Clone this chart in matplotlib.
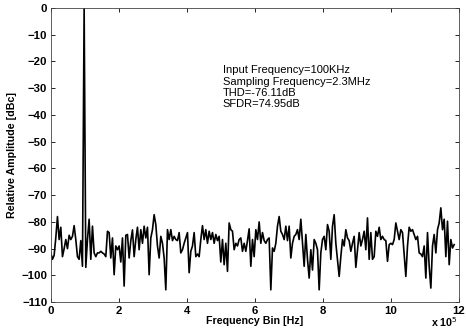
#!/usr/bin/env python
from matplotlib import pyplot as plt
import numpy as np

# FFT spectrum (x in units of 1e5 Hz)
bin_width = 0.049
amp = [
    -91.6, -94, -92.5, -86, -78, -86.6, -82, -93, -90, -86.6,
    -90, -85, -86.6, -85.4, -81.4, -86.6, -93, -94, -87, -96.6,
    0, -97, -86.6, -79, -94, -81.6, -91.6, -93, -91.6, -91.6,
    -91, -91.6, -92, -93, -83.5, -84, -93.5, -86, -99.75, -89,
    -90.4, -89, -95, -86, -104, -85, -84.7, -93.5, -87, -83,
    -93, -86.6, -82, -90.4, -82.9, -88, -81.6, -86, -82, -99.75,
    -86, -82.9, -77.3, -81, -89, -93.5, -85.4, -88, -93.5, -105.4,
    -82.9, -86.6, -82.9, -87, -85.4, -86.6, -87, -84, -91.6, -90.4,
    -88, -86, -84, -99, -91, -89, -84, -93, -92, -93,
    -86.6, -81.4, -86.6, -82.9, -88, -83.5, -86.6, -84, -88, -84.7,
    -87, -85.4, -95, -86.6, -96, -88, -98.5, -80.4, -82.9, -83.5,
    -90.4, -88, -89, -86.6, -86, -91, -88, -91, -87, -82.6,
    -96.6, -86.6, -93, -82.9, -86.6, -80,
    -88, -84, -87, -88, -86.6, -86, -105.4, -89.75, -91, -88,
    -81.6, -78, -83.5, -84.7, -86.6, -81.6, -87, -81.6, -93.5, -88,
    -85.4, -84.7, -82.9, -86.6, -79, -88, -96.6, -84.7, -94, -101,
    -90.4, -98, -86.6, -88, -90.4, -105.4, -91.6, -86.6, -85.4, -90.4,
    -81, -83.5, -94, -81.6, -77.3, -88, -94, -100.4, -93, -86.6,
    -89, -82.9, -86, -87, -91, -88, -85.4, -97, -90.4, -84,
    -89, -86.6, -83.5, -90.4, -78.5, -94, -84, -94, -93, -83.5,
    -85.4, -82, -86.6, -85.4, -86.6, -87, -94.75, -88.5, -88, -88.5,
    -86.6, -80.4, -83.5, -86.6, -82.9, -84, -92, -100.4, -89, -82,
    -83.5, -82.9, -84.7, -86.6, -85.4, -91.6, -92, -93, -89, -101,
    -84, -96.6, -104.75, -89, -84.7, -91.6, -82.9, -80.4, -74.75, -82.9,
    -79, -93, -79.75, -96, -86.6, -89.75, -88.5,
]
freq = np.arange(len(amp)) * bin_width

info_lines = [
    "Input Frequency=100KHz",
    "Sampling Frequency=2.3MHz",
    "THD=-76.11dB",
    "SFDR=74.95dB",
]
xticks = [0, 2, 4, 6, 8, 10, 12]
yticks = list(range(-110, 1, 10))

plt.rcParams['font.family'] = ['Liberation Sans', 'DejaVu Sans']

fig = plt.figure(figsize=(4.66, 3.32), dpi=100)
ax = fig.add_axes([0.109, 0.090, 0.876, 0.886])

ax.plot(freq, amp, color='black', linewidth=1.2)

ax.set_xlim(0, 12)
ax.set_ylim(-110, 0)
ax.set_xticks(xticks)
ax.set_yticks(yticks)
ax.tick_params(direction='in', top=True, right=True, length=3, width=0.6,
               labelsize=8.2, pad=2.5)
for lab in ax.get_xticklabels() + ax.get_yticklabels():
    lab.set_fontweight('bold')
for sp in ax.spines.values():
    sp.set_linewidth(0.6)
    sp.set_color('#444444')

ax.set_xlabel("Frequency Bin [Hz]", fontsize=7.7, fontweight='bold', labelpad=0)
ax.set_ylabel("Relative Amplitude [dBc]", fontsize=7.7, fontweight='bold', labelpad=3)

ax.text(5.05, -21.5, "\n".join(info_lines), fontsize=8.0, va='top', ha='left',
        linespacing=1.15)

fig.text(0.983, 0.010, r"x 10$^{5}$", fontsize=7.7, fontweight='bold',
         ha='right', va='bottom')

plt.savefig("out.png", dpi=100)
